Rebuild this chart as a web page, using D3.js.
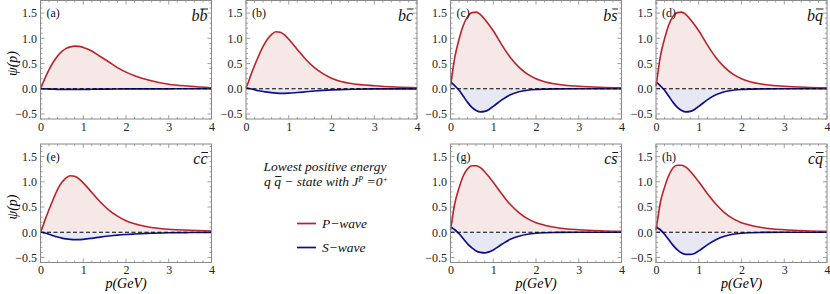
<!DOCTYPE html>
<html>
<head>
<meta charset="utf-8">
<script src="https://cdn.jsdelivr.net/npm/d3@7"></script>
<style>
  body { margin: 0; background: #fff; }
  svg text { font-family: "Liberation Serif", "Times New Roman", "DejaVu Serif", serif !important; }
</style>
</head>
<body>
<svg width="830" height="294"></svg>
<script>
// momentum grid (GeV) shared by every curve
const pGrid = [0, 0.05, 0.1, 0.2, 0.3, 0.4, 0.5, 0.6, 0.7, 0.8, 0.9, 1.0, 1.2, 1.4, 1.6, 1.8, 2.0, 2.2, 2.5, 3.0, 3.5, 4.0];

// P-wave (red) and S-wave (blue) components
const pWaveBB = [0, 0.10, 0.20, 0.38, 0.53, 0.65, 0.74, 0.80, 0.83, 0.845, 0.84, 0.82, 0.75, 0.64, 0.53, 0.42, 0.33, 0.26, 0.18, 0.09, 0.05, 0.02];
const sWaveBB = [0, 0, -0.003, -0.006, -0.009, -0.011, -0.012, -0.013, -0.013, -0.013, -0.012, -0.012, -0.010, -0.008, -0.006, -0.005, -0.004, -0.003, -0.002, -0.001, 0, 0];

const pWaveBC = [0.02, 0.12, 0.24, 0.46, 0.66, 0.84, 0.98, 1.08, 1.13, 1.12, 1.07, 0.98, 0.78, 0.58, 0.42, 0.30, 0.21, 0.15, 0.10, 0.06, 0.035, 0.02];
const sWaveBC = [0.02, 0.01, 0, -0.02, -0.04, -0.055, -0.068, -0.078, -0.085, -0.09, -0.09, -0.088, -0.075, -0.06, -0.045, -0.033, -0.024, -0.017, -0.010, -0.004, -0.002, -0.001];

const pWaveBS = [0.05, 0.35, 0.62, 0.98, 1.26, 1.43, 1.51, 1.52, 1.47, 1.38, 1.27, 1.15, 0.87, 0.62, 0.43, 0.29, 0.20, 0.14, 0.09, 0.05, 0.03, 0.02];
const sWaveBS = [0.13, 0.10, 0.06, -0.03, -0.15, -0.27, -0.37, -0.43, -0.46, -0.45, -0.41, -0.35, -0.22, -0.12, -0.06, -0.03, -0.015, -0.008, -0.003, 0, 0, 0];

const pWaveBQ = [0.05, 0.35, 0.63, 0.99, 1.27, 1.44, 1.51, 1.52, 1.47, 1.38, 1.27, 1.15, 0.87, 0.62, 0.43, 0.29, 0.20, 0.14, 0.09, 0.05, 0.03, 0.02];
const sWaveBQ = [0.13, 0.10, 0.06, -0.03, -0.15, -0.27, -0.37, -0.43, -0.46, -0.45, -0.41, -0.35, -0.22, -0.12, -0.06, -0.03, -0.015, -0.008, -0.003, 0, 0, 0];

const pWaveCC = [0, 0.11, 0.23, 0.45, 0.66, 0.85, 0.99, 1.08, 1.12, 1.11, 1.06, 0.98, 0.79, 0.60, 0.44, 0.32, 0.23, 0.17, 0.11, 0.06, 0.04, 0.025];
const sWaveCC = [0, -0.005, -0.015, -0.04, -0.07, -0.095, -0.115, -0.13, -0.14, -0.145, -0.145, -0.14, -0.12, -0.095, -0.075, -0.058, -0.045, -0.035, -0.022, -0.010, -0.005, -0.002];

const pWaveCS = [0.04, 0.32, 0.57, 0.88, 1.12, 1.26, 1.32, 1.32, 1.28, 1.20, 1.10, 0.99, 0.76, 0.55, 0.39, 0.27, 0.19, 0.14, 0.09, 0.05, 0.03, 0.02];
const sWaveCS = [0.10, 0.08, 0.05, -0.03, -0.13, -0.23, -0.31, -0.37, -0.40, -0.41, -0.39, -0.35, -0.24, -0.14, -0.08, -0.04, -0.02, -0.01, -0.004, 0, 0, 0];

const pWaveCQ = [0.04, 0.32, 0.58, 0.89, 1.13, 1.28, 1.33, 1.33, 1.29, 1.21, 1.11, 1.00, 0.77, 0.56, 0.39, 0.27, 0.19, 0.14, 0.09, 0.05, 0.03, 0.02];
const sWaveCQ = [0.11, 0.08, 0.05, -0.04, -0.15, -0.26, -0.35, -0.41, -0.44, -0.44, -0.42, -0.37, -0.25, -0.15, -0.08, -0.04, -0.02, -0.01, -0.004, 0, 0, 0];

// panel tags and quark content (first letter, barred letter)
const panelTags = ["(a)", "(b)", "(c)", "(d)", "(e)", "(g)", "(h)"];
const flavours = [["b", "b"], ["b", "c"], ["b", "s"], ["b", "q"], ["c", "c"], ["c", "s"], ["c", "q"]];
const pWaves = [pWaveBB, pWaveBC, pWaveBS, pWaveBQ, pWaveCC, pWaveCS, pWaveCQ];
const sWaves = [sWaveBB, sWaveBC, sWaveBS, sWaveBQ, sWaveCC, sWaveCS, sWaveCQ];

const xTicks = [0, 1, 2, 3, 4];
const yTicks = [-0.5, 0, 0.5, 1.0, 1.5];
const yTickLabels = ["\u22120.5", "0.0", "0.5", "1.0", "1.5"];

// layout
const panelW = 171, panelH = 118.5;
const slots = [[40.5, 0.5], [246, 0.5], [450.5, 0.5], [656, 0.5], [40.5, 144], [450.5, 144], [656, 144]];
const red = "#bb2229", blue = "#0c0f8f";
const redFill = "#f7e8e8", blueFill = "#e5e6f3";
const frameCol = "#8a8a8a";

const svg = d3.select("svg");

const x = d3.scaleLinear().domain([0, 4]).range([0, panelW]);
const y = d3.scaleLinear().domain([-0.6, 1.75]).range([panelH, 0]);

function overlineChar(textSel, idx, dyOff) {
  const el = textSel.node();
  const s = el.getStartPositionOfChar(idx);
  const e = el.getEndPositionOfChar(idx);
  const g = d3.select(el.parentNode);
  g.append("line")
    .attr("x1", s.x + 1).attr("x2", e.x + 0.5)
    .attr("y1", s.y + dyOff).attr("y2", s.y + dyOff)
    .attr("stroke", "#000").attr("stroke-width", 0.9);
}

slots.forEach(([px, py], i) => {
  const g = svg.append("g").attr("transform", `translate(${px},${py})`);
  const bottomRow = py > 100;
  const data = pGrid.map((p, k) => ({ p: p, P: pWaves[i][k], S: sWaves[i][k] }));

  const areaP = d3.area().x(d => x(d.p)).y0(y(0)).y1(d => y(d.P)).curve(d3.curveMonotoneX);
  const areaS = d3.area().x(d => x(d.p)).y0(y(0)).y1(d => y(d.S)).curve(d3.curveMonotoneX);
  const lineP = d3.line().x(d => x(d.p)).y(d => y(d.P)).curve(d3.curveMonotoneX);
  const lineS = d3.line().x(d => x(d.p)).y(d => y(d.S)).curve(d3.curveMonotoneX);

  g.append("path").attr("d", areaP(data)).attr("fill", redFill);
  g.append("path").attr("d", areaS(data)).attr("fill", blueFill).attr("fill-opacity", 0.9);

  // ticks, inside, on all four sides
  const minorX = d3.range(0, 4.0001, 0.2);
  const minorY = d3.range(-0.6, 1.75, 0.1).map(v => Math.round(v * 10) / 10);
  const tk = g.append("g").attr("stroke", "#777").attr("stroke-width", 0.7);
  minorX.forEach(v => {
    const major = Math.abs(v - Math.round(v)) < 1e-6;
    const len = major ? 4 : 2;
    tk.append("line").attr("x1", x(v)).attr("x2", x(v)).attr("y1", panelH).attr("y2", panelH - len);
    tk.append("line").attr("x1", x(v)).attr("x2", x(v)).attr("y1", 0).attr("y2", len);
  });
  minorY.forEach(v => {
    const major = Math.abs(v * 2 - Math.round(v * 2)) < 1e-6;
    const len = major ? 4 : 2;
    tk.append("line").attr("x1", 0).attr("x2", len).attr("y1", y(v)).attr("y2", y(v));
    tk.append("line").attr("x1", panelW).attr("x2", panelW - len).attr("y1", y(v)).attr("y2", y(v));
  });

  g.append("path").attr("d", lineS(data)).attr("fill", "none").attr("stroke", blue).attr("stroke-width", 1.7);
  g.append("path").attr("d", lineP(data)).attr("fill", "none").attr("stroke", red).attr("stroke-width", 1.6);

  g.append("line")
    .attr("x1", 0).attr("x2", panelW).attr("y1", y(0)).attr("y2", y(0))
    .attr("stroke", "#000").attr("stroke-width", 1.1).attr("stroke-dasharray", "4,2.5");

  g.append("rect").attr("width", panelW).attr("height", panelH)
    .attr("fill", "none").attr("stroke", frameCol).attr("stroke-width", 1);

  // tick labels via d3 axes
  const xAx = g.append("g").attr("transform", `translate(0,${panelH})`)
    .call(d3.axisBottom(x).tickValues(xTicks).tickFormat(d3.format("d")).tickSize(0).tickPadding(3));
  const yAx = g.append("g")
    .call(d3.axisLeft(y).tickValues(yTicks).tickFormat((d, k) => yTickLabels[k]).tickSize(0).tickPadding(3.5));
  [xAx, yAx].forEach(a => {
    a.select(".domain").remove();
    a.selectAll("text").attr("font-size", 12).attr("fill", "#222");
  });

  g.append("text").attr("x", 6).attr("y", 16.5).attr("font-size", 12).attr("fill", "#111").text(panelTags[i]);

  const fl = g.append("text").attr("x", panelW - 4).attr("y", 20)
    .attr("text-anchor", "end").attr("font-style", "italic").attr("font-size", 16).attr("fill", "#111")
    .text(flavours[i][0] + flavours[i][1]);
  overlineChar(fl, 1, -11.5);

  if (i === 0 || i === 4) {
    g.append("text")
      .attr("transform", `translate(-24,${y(0.5)}) rotate(-90)`)
      .attr("text-anchor", "middle").attr("font-style", "italic").attr("font-size", 14)
      .text("\u03c8(p)");
  }
  if (bottomRow) {
    g.append("text").attr("x", panelW / 2).attr("y", panelH + 25.5)
      .attr("text-anchor", "middle").attr("font-style", "italic").attr("font-size", 14)
      .text("p(GeV)");
  }
});

// legend / caption in the empty slot
const leg = svg.append("g").attr("font-style", "italic").attr("fill", "#111");
leg.append("text").attr("x", 325).attr("y", 171).attr("text-anchor", "middle").attr("font-size", 13.5)
  .text("Lowest positive energy");
const l2 = leg.append("text").attr("x", 326).attr("y", 186).attr("text-anchor", "middle").attr("font-size", 13.5);
l2.append("tspan").text("q q \u2212 state with J");
l2.append("tspan").attr("dy", -4).attr("font-size", 8).text("P");
l2.append("tspan").attr("dy", 4).text(" =0");
l2.append("tspan").attr("dy", -4).attr("font-size", 8).text("+");
overlineChar(l2, 2, -9.5);

const legendItems = [["P\u2212wave", red], ["S\u2212wave", blue]];
legendItems.forEach(([lab, col], k) => {
  const yy = 223.5 + k * 24;
  leg.append("line").attr("x1", 297).attr("x2", 316).attr("y1", yy).attr("y2", yy)
    .attr("stroke", col).attr("stroke-width", 1.7);
  leg.append("text").attr("x", 322).attr("y", yy + 4.5).attr("font-size", 13.5).text(lab);
});
</script>
</body>
</html>
